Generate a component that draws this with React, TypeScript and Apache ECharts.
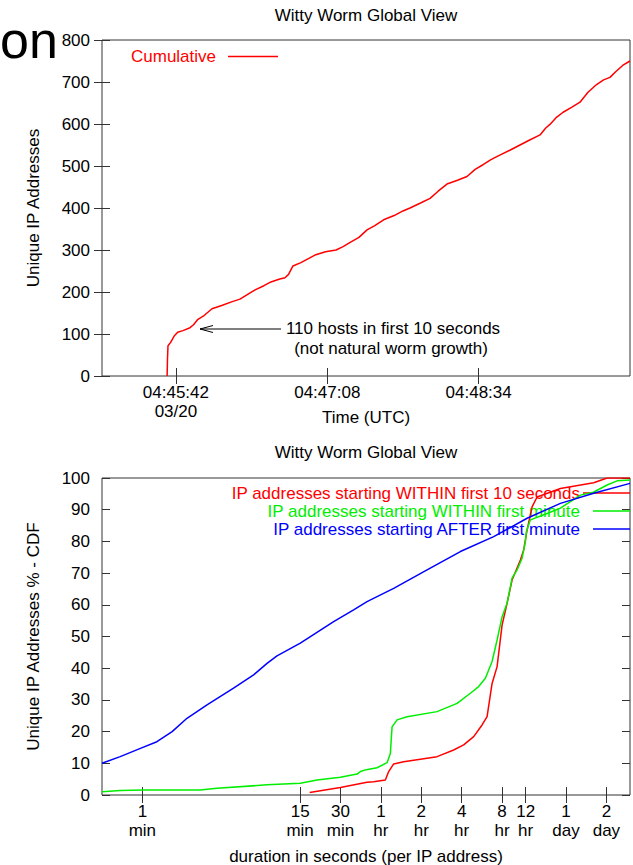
import React, { useEffect, useRef } from "react";
import * as echarts from "echarts";

// Top chart: seconds after 04:45:00 UTC (03/20) and cumulative unique IPs
const cumulativeSeconds = [37.0, 37.2, 37.5, 39, 41, 43, 46, 50, 52, 54.5, 58, 62.5, 68, 74, 78.4, 83, 87, 92, 96, 101, 104, 106, 108.5, 113, 121, 127, 133, 137, 141, 146, 150.6, 155, 160, 166, 171, 175, 181, 186.4, 191, 196, 202, 207.4, 212, 216.5, 221, 226, 232, 237.5, 243, 248.9, 252, 254.5, 258, 262, 267, 271.6, 276, 281, 285, 288.6, 292, 296, 300];
const cumulativeHosts = [0, 40, 72, 80, 95, 104, 108, 115, 122, 135, 144, 160, 168, 177, 183, 195, 205, 215, 224, 231, 234, 242, 262, 270, 288, 296, 300, 308, 318, 330, 348, 358, 372, 382, 393, 400, 412, 423, 440, 457, 466, 475, 492, 503, 515, 526, 538, 550, 562, 574, 590, 599, 615, 628, 640, 652, 675, 694, 705, 711, 725, 740, 750];
const timeTickSeconds = [42, 128, 214];
const timeTickLabels = ["04:45:42\n03/20", "04:47:08", "04:48:34"];

// Bottom chart: duration (seconds) vs CDF (%)
const within10Dur = [1060, 1795, 2838, 3180, 3888, 4116, 4485, 5325, 9444, 12560, 14910, 17710, 20450, 22290, 24290, 26470, 28830, 31420, 34230, 39490, 41790, 44300, 48270, 52590, 78490, 139000, 175000, 259200];
const within10Pct = [0.8, 2.4, 4.0, 4.2, 4.7, 7.4, 9.8, 10.5, 12.1, 14.2, 15.8, 18.4, 22.1, 24.7, 35.2, 40.5, 53.6, 60.5, 67.8, 74.1, 77.3, 83.6, 90.9, 94.0, 96.7, 98.5, 100, 100];
const within60Dur = [30, 41, 61, 162, 216, 510, 903, 1203, 1795, 2392, 2532, 2800, 3372, 4003, 4236, 4362, 4755, 5645, 9444, 13320, 16730, 19290, 21650, 24290, 26470, 28830, 31420, 34230, 37300, 40650, 43030, 43770, 46890, 62460, 78490, 110600, 138300, 175000, 207800, 259200];
const within60Pct = [1.0, 1.4, 1.6, 1.6, 2.1, 3.2, 3.7, 4.7, 5.6, 6.6, 7.4, 8.0, 8.6, 10.2, 13.1, 21.5, 23.7, 24.7, 26.3, 28.9, 32.1, 34.2, 36.8, 42.1, 48.9, 56.2, 60.5, 68.4, 71.0, 74.7, 79.9, 83.1, 86.8, 88.8, 90.5, 94.6, 95.5, 97.8, 99.1, 99.4];
const afterDur = [30, 41, 58, 77, 100, 129, 182, 287, 405, 510, 605, 903, 1600, 2255, 2838, 4485, 7956, 14094, 24972, 44300, 78490, 139000, 259200];
const afterPct = [10.0, 12.1, 14.7, 16.8, 20.0, 24.2, 28.4, 33.7, 37.9, 41.5, 43.9, 47.9, 54.7, 58.4, 61.0, 65.2, 71.0, 76.8, 81.5, 87.3, 92.0, 95.2, 98.3];
const durationTickSeconds = [60, 900, 1800, 3600, 7200, 14400, 28800, 43200, 86400, 172800];
const durationTickLabels = ["1\nmin", "15\nmin", "30\nmin", "1\nhr", "2\nhr", "4\nhr", "8\nhr", "12\nhr", "1\nday", "2\nday"];

const seriesNames = [
  "IP addresses starting WITHIN first 10 seconds",
  "IP addresses starting WITHIN first minute",
  "IP addresses starting AFTER first minute",
];

export default function App() {
  const ref = useRef<HTMLDivElement>(null);
  useEffect(() => {
    const chart = echarts.init(ref.current!, null, { renderer: "svg" });
    const FONT = "'Liberation Sans', Arial, Helvetica, sans-serif";
    const txt = { fontFamily: FONT, fontSize: 17, color: "#000" };
    const edge = "#333";
    const RED = "#ff0000", GREEN = "#00ee00", BLUE = "#0000ff";
    const LW = 1.5;
    const lg = (v: number) => Math.log10(v);
    const durTicks = durationTickSeconds.map(lg);
    const labelFor = (ticks: number[], labels: string[]) => (v: number) => {
      const i = ticks.findIndex((t) => Math.abs(t - v) < 1e-6);
      return i >= 0 ? labels[i] : "";
    };
    const tick = (custom?: number[]) => ({ show: true, inside: true, length: 8, lineStyle: { color: edge, width: 1 }, ...(custom ? { customValues: custom } : {}) });
    const zip = (a: number[], b: number[], f = (x: number) => x) => a.map((x, i) => [f(x), b[i]]);
    const gfont = (s: number) => `${s}px ${FONT}`;
    const text = (t: string, x: number, y: number, fill: string, align = "left", size = 17) => ({
      type: "text", x, y, silent: true,
      style: { text: t, fill, font: gfont(size), align, textAlign: align, verticalAlign: "middle", textVerticalAlign: "middle" },
    });
    const seg = (pts: number[][], stroke: string, w = LW) => ({
      type: "polyline", silent: true, shape: { points: pts }, style: { stroke, lineWidth: w, fill: "none" },
    });

    const option: any = {
      animation: false,
      backgroundColor: "#fff",
      grid: [
        { left: 102, top: 40, width: 528, height: 336, show: true, borderColor: edge, borderWidth: 1, containLabel: false, outerBoundsMode: "none" },
        { left: 102, top: 478, width: 528, height: 317, show: true, borderColor: edge, borderWidth: 1, containLabel: false, outerBoundsMode: "none" },
      ],
      xAxis: [
        {
          type: "value", gridIndex: 0, min: 0, max: 300, position: "bottom",
          axisLine: { show: false }, splitLine: { show: false },
          axisTick: tick(timeTickSeconds),
          axisLabel: { customValues: timeTickSeconds, formatter: labelFor(timeTickSeconds, timeTickLabels), margin: 7, ...txt, lineHeight: 19 },
          name: "Time (UTC)", nameLocation: "middle", nameGap: 33, nameTextStyle: { ...txt }, nameMoveOverlap: false,
        },
        {
          type: "value", gridIndex: 0, min: 0, max: 300, position: "top",
          axisLine: { show: false }, splitLine: { show: false },
          axisTick: tick(timeTickSeconds),
          axisLabel: { show: false, customValues: timeTickSeconds },
        },
        {
          type: "value", gridIndex: 1, min: lg(30), max: lg(259200), position: "bottom",
          axisLine: { show: false }, splitLine: { show: false },
          axisTick: tick(durTicks),
          axisLabel: { customValues: durTicks, formatter: labelFor(durTicks, durationTickLabels), margin: 7, ...txt, lineHeight: 19 },
          name: "duration in seconds (per IP address)", nameLocation: "middle", nameGap: 53, nameTextStyle: { ...txt }, nameMoveOverlap: false,
        },
        {
          type: "value", gridIndex: 1, min: lg(30), max: lg(259200), position: "top",
          axisLine: { show: false }, splitLine: { show: false },
          axisTick: tick(durTicks),
          axisLabel: { show: false, customValues: durTicks },
        },
      ],
      yAxis: [
        {
          type: "value", gridIndex: 0, min: 0, max: 800, interval: 100, position: "left",
          axisLine: { show: false }, splitLine: { show: false }, axisTick: tick(),
          axisLabel: { margin: 12, ...txt },
          name: "Unique IP Addresses", nameLocation: "middle", nameGap: 60, nameRotate: 90, nameTextStyle: { ...txt }, nameMoveOverlap: false,
        },
        {
          type: "value", gridIndex: 0, min: 0, max: 800, interval: 100, position: "right",
          axisLine: { show: false }, splitLine: { show: false }, axisTick: tick(), axisLabel: { show: false },
        },
        {
          type: "value", gridIndex: 1, min: 0, max: 100, interval: 10, position: "left",
          axisLine: { show: false }, splitLine: { show: false }, axisTick: tick(),
          axisLabel: { margin: 12, ...txt },
          name: "Unique IP Addresses % - CDF", nameLocation: "middle", nameGap: 60, nameRotate: 90, nameTextStyle: { ...txt }, nameMoveOverlap: false,
        },
        {
          type: "value", gridIndex: 1, min: 0, max: 100, interval: 10, position: "right",
          axisLine: { show: false }, splitLine: { show: false }, axisTick: tick(), axisLabel: { show: false },
        },
      ],
      series: [
        {
          name: "Cumulative", type: "line", xAxisIndex: 0, yAxisIndex: 0, data: zip(cumulativeSeconds, cumulativeHosts),
          symbol: "none", showSymbol: false, lineStyle: { color: RED, width: LW }, itemStyle: { color: RED }, silent: true,
        },
        {
          name: seriesNames[0], type: "line", xAxisIndex: 2, yAxisIndex: 2, data: zip(within10Dur, within10Pct, lg),
          symbol: "none", showSymbol: false, lineStyle: { color: RED, width: LW }, itemStyle: { color: RED }, silent: true,
        },
        {
          name: seriesNames[1], type: "line", xAxisIndex: 2, yAxisIndex: 2, data: zip(within60Dur, within60Pct, lg),
          symbol: "none", showSymbol: false, lineStyle: { color: GREEN, width: LW }, itemStyle: { color: GREEN }, silent: true,
        },
        {
          name: seriesNames[2], type: "line", xAxisIndex: 2, yAxisIndex: 2, data: zip(afterDur, afterPct, lg),
          symbol: "none", showSymbol: false, lineStyle: { color: BLUE, width: LW }, itemStyle: { color: BLUE }, silent: true,
        },
      ],
      graphic: [
        text("on", 0, 40, "#000", "left", 52),
        text("Witty Worm Global View", 366, 15, "#000", "center"),
        text("Witty Worm Global View", 366, 452, "#000", "center"),
        text("Cumulative", 131, 56, RED, "left"),
        seg([[228, 56.5], [278, 56.5]], RED),
        text("110 hosts in first 10 seconds", 393, 328, "#000", "center"),
        text("(not natural worm growth)", 391, 348, "#000", "center"),
        seg([[281, 329], [200, 329]], "#000", 1),
        seg([[213, 325.5], [200, 329], [213, 332.5]], "#000", 1),
        text(seriesNames[0], 580, 493, RED, "right"),
        seg([[583, 493], [630, 493]], RED),
        text(seriesNames[1], 580, 511, GREEN, "right"),
        seg([[593, 511], [630, 511]], GREEN),
        text(seriesNames[2], 580, 529, BLUE, "right"),
        seg([[593, 529], [630, 529]], BLUE),
      ],
    };
    chart.setOption(option);
    return () => chart.dispose();
  }, []);
  return <div ref={ref} style={{ position: "fixed", left: 0, top: 0, width: 633, height: 865 }} />;
}
